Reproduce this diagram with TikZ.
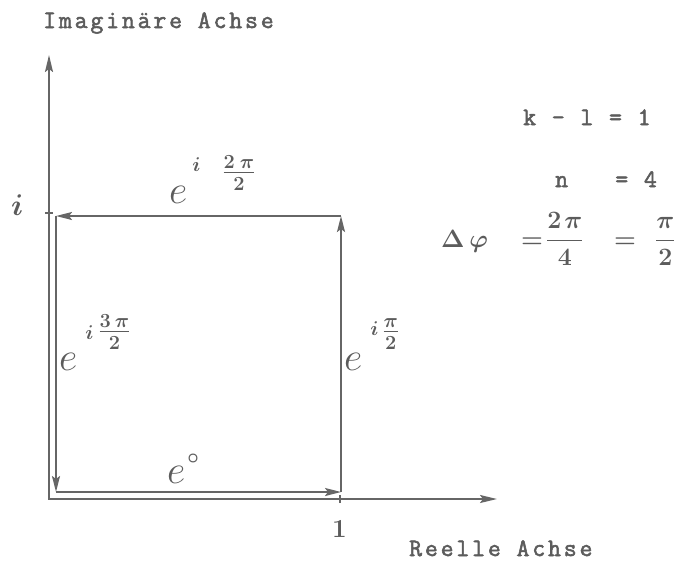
\RequirePackage{fix-cm}
\documentclass[tikz,border=0pt]{standalone}
\usepackage{fontspec}
\usepackage{amsmath}
\usetikzlibrary{arrows.meta}
\newfontfamily\twfont{Latin Modern Mono}[LetterSpace=11.5,FakeBold=2.2]
\definecolor{ink}{gray}{0.40}
\definecolor{txt}{gray}{0.36}
% e^{i frac}: #1 gap before i, #2 raise of i, #3 gap before fraction, #4 raise of fraction, #5 fraction
\newcommand{\hwexp}[5]{$e^{\hspace{#1}\raisebox{#2}{$\scriptscriptstyle\boldsymbol{i}$}\hspace{#3}\raisebox{#4}{$\scriptstyle\boldsymbol{#5}$}}$}
\usepackage{amsbsy}
\begin{document}
\begin{tikzpicture}[x=1pt,y=-1pt,
  axis/.style={draw=ink, line width=2pt, {Stealth[length=17pt,width=8pt,inset=3pt]}-{Stealth[length=17pt,width=8pt,inset=3pt]}},
  vec/.style={draw=ink, line width=2pt, -{Stealth[length=16pt,width=8pt,inset=3pt]}},
  tick/.style={draw=ink, line width=2pt},
  tw/.style={text=txt, font=\twfont\fontsize{25}{25}\selectfont, inner sep=0pt, anchor=base west},
  hw/.style={text=txt, font=\fontsize{40}{40}\selectfont, inner sep=0pt, anchor=base west},
  hwm/.style={text=txt, font=\fontsize{25}{25}\selectfont\boldmath, inner sep=0pt, anchor=base west}]
\useasboundingbox (0,0) rectangle (692,563);

% axes
\coordinate (O) at (49,499);
\coordinate (Ytop) at (49,55);
\coordinate (Xend) at (497,499);
\draw[axis] (Ytop) -- (O) -- (Xend);

% ticks
\coordinate (one) at (340,499);
\coordinate (itick) at (49,213);
\draw[tick] ([yshift=-4pt]one) -- ([yshift=4pt]one);
\draw[tick] ([xshift=-4pt]itick) -- ([xshift=4pt]itick);

% square path
\coordinate (A) at (56,492);
\coordinate (B) at (341,492);
\coordinate (C) at (341,216);
\coordinate (D) at (56,216);
\draw[vec] (A) -- (B);
\draw[vec] (B) -- (C);
\draw[vec] (C) -- (D);
\draw[vec] (D) -- (A);

% axis labels
\node[tw] (imag) at (43,28) {Imaginäre Achse};
\node[tw] (reell) at (409,556) {Reelle Achse};
\node[text=txt, font=\fontsize{30}{30}\selectfont\boldmath, inner sep=0pt, anchor=base west] (ilab) at (11,215) {$i$};
\node[text=txt, font=\fontsize{26}{26}\selectfont\boldmath, inner sep=0pt, anchor=base west] (onelab) at (332,537) {$1$};

% exponent labels
\node[hw] (etop) at (169,203) {\hwexp{5pt}{16.5pt}{22pt}{8.5pt}{\frac{2\hspace{5pt}\pi}{2}}};
\node[hw] (eleft) at (59,370) {\hwexp{8pt}{15.5pt}{5pt}{16.5pt}{\frac{3\hspace{4pt}\pi}{2}}};
\node[hw] (eright) at (344,370) {\hwexp{8pt}{20pt}{4pt}{16.5pt}{\frac{\pi}{2}}};
\node[hw] (ebot) at (167,483) {$e^{\hspace{2pt}\raisebox{4.5pt}{$\scriptscriptstyle\boldsymbol{\circ}$}}$};

% right-hand equations
\node[tw] (keq) at (523,125) {k - l = 1};
\node[tw] (neq) at (555,187) {n~~~= 4};
\node[hwm] (dphi) at (441,247) {$\Delta\,\varphi$};
\node[hwm] (eqa) at (521,247) {$=$};
\node[hwm] (fra) at (546,247) {$\dfrac{2\hspace{3pt}\pi}{4}$};
\node[hwm] (eqb) at (614,247) {$=$};
\node[hwm] (frb) at (655,247) {$\dfrac{\pi}{2}$};
\end{tikzpicture}
\end{document}
